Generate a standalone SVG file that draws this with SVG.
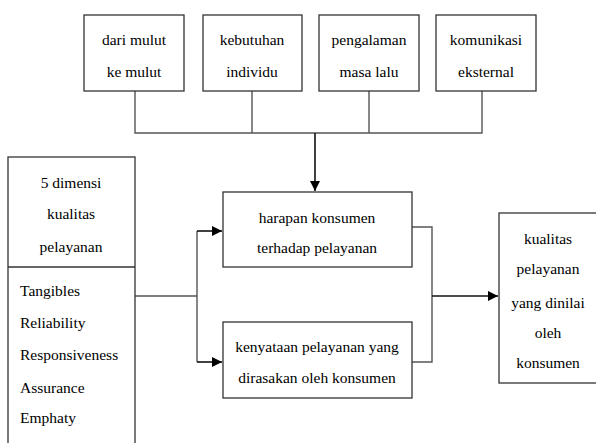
<svg xmlns="http://www.w3.org/2000/svg" width="596" height="443" viewBox="0 0 596 443">
<defs>
<marker id="ah" viewBox="0 0 10 10" refX="10" refY="5" markerWidth="10" markerHeight="10" markerUnits="userSpaceOnUse" orient="auto">
<path d="M0,0 L10,5 L0,10 Z" fill="#000"/>
</marker>
<style>
.box{fill:#fff;stroke:#333;stroke-width:1.3}
.ln{fill:none;stroke:#555;stroke-width:1.4}
.ar{fill:none;stroke:#111;stroke-width:1.6}
.c{text-anchor:middle}
</style>
</defs>
<rect width="596" height="443" fill="#fff"/>
<g id="connectors">
<path class="ln" d="M135,91 V133 H482 V91 M252,91 V133 M369,91 V133"/>
<path class="ar" d="M315,133 V191" marker-end="url(#ah)"/>
<path class="ln" d="M135,296 H197 V231 M197,296 V362"/>
<path class="ar" d="M197,231 H222" marker-end="url(#ah)"/>
<path class="ar" d="M197,362 H222" marker-end="url(#ah)"/>
<path class="ln" d="M412,227 H432 V362 H412"/>
<path class="ar" d="M432,296 H498" marker-end="url(#ah)"/>
</g>
<g font-family="Liberation Serif, Times New Roman, DejaVu Serif, serif" font-size="15.5" fill="#000">
<g id="n1"><rect class="box" x="84" y="15" width="100" height="76"/>
<text class="c" x="134" y="45">dari mulut</text><text class="c" x="134" y="77">ke mulut</text></g>
<g id="n2"><rect class="box" x="203" y="15" width="99" height="76"/>
<text class="c" x="252" y="45">kebutuhan</text><text class="c" x="252" y="77">individu</text></g>
<g id="n3"><rect class="box" x="319" y="15" width="100" height="76"/>
<text class="c" x="369" y="45">pengalaman</text><text class="c" x="369" y="77">masa lalu</text></g>
<g id="n4"><rect class="box" x="436" y="15" width="100" height="76"/>
<text class="c" x="486" y="45">komunikasi</text><text class="c" x="486" y="77">eksternal</text></g>
<g id="n5"><rect class="box" x="8" y="157" width="127" height="300"/>
<line x1="8" y1="267" x2="135" y2="267" stroke="#333" stroke-width="1.3"/>
<text class="c" x="71" y="188">5 dimensi</text><text class="c" x="71" y="219">kualitas</text><text class="c" x="71" y="252">pelayanan</text>
<text x="20" y="296">Tangibles</text><text x="20" y="328">Reliability</text><text x="20" y="360">Responsiveness</text><text x="20" y="393">Assurance</text><text x="20" y="423">Emphaty</text></g>
<g id="n6"><rect class="box" x="223" y="192" width="189" height="75"/>
<text class="c" x="317" y="223">harapan konsumen</text><text class="c" x="317" y="253">terhadap pelayanan</text></g>
<g id="n7"><rect class="box" x="223" y="322" width="189" height="76"/>
<text class="c" x="317" y="352">kenyataan pelayanan yang</text><text class="c" x="317" y="383">dirasakan oleh konsumen</text></g>
<g id="n8"><rect class="box" x="499" y="213" width="110" height="170"/>
<text class="c" x="548" y="244">kualitas</text><text class="c" x="548" y="274">pelayanan</text><text class="c" x="548" y="308">yang dinilai</text><text class="c" x="548" y="338">oleh</text><text class="c" x="548" y="368">konsumen</text></g>
</g>
</svg>
